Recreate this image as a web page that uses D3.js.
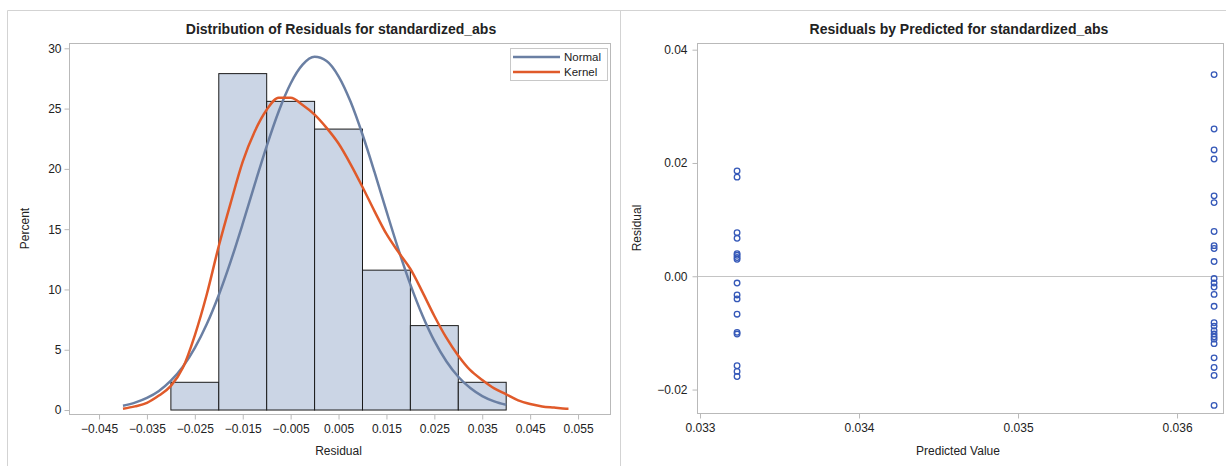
<!DOCTYPE html>
<html>
<head>
<meta charset="utf-8">
<script src="https://cdn.jsdelivr.net/npm/d3@7"></script>
<style>
  body { margin: 0; background: #fff; }
  svg text { font-family: "Liberation Sans", Arial, sans-serif; fill: #222; }
  .title { font-weight: bold; font-size: 14px; }
  .tick text { font-size: 12px; }
</style>
</head>
<body>
<svg id="chart" width="1226" height="466"></svg>
<script>
// ---------------- data ----------------
// histogram bins (left edge, right edge, percent)
var binStarts = [-0.03, -0.02, -0.01, 0.00, 0.01, 0.02, 0.03];
var binEnds = [-0.02, -0.01, 0.00, 0.01, 0.02, 0.03, 0.04];
var binPercents = [2.3, 27.9, 25.6, 23.3, 11.6, 7.0, 2.3];

// normal density curve
var normalX = [-0.040, -0.0375, -0.035, -0.0325, -0.030, -0.0275, -0.025, -0.0225, -0.020, -0.0175,
  -0.015, -0.0125, -0.010, -0.0075, -0.005, -0.0025, 0.000, 0.0025, 0.005, 0.0075, 0.010, 0.0125,
  0.015, 0.0175, 0.020, 0.0225, 0.025, 0.0275, 0.030, 0.0325, 0.035, 0.0375, 0.040];
var normalY = [0.36, 0.61, 1.00, 1.58, 2.43, 3.59, 5.15, 7.13, 9.54, 12.35,
  15.46, 18.71, 21.89, 24.76, 27.08, 28.64, 29.29, 28.95, 27.68, 25.58, 22.85, 19.75,
  16.49, 13.32, 10.40, 7.86, 5.73, 4.05, 2.76, 1.82, 1.16, 0.72, 0.43];

// kernel density curve
var kernelX = [-0.040, -0.0375, -0.035, -0.0325, -0.030, -0.0275, -0.025, -0.0225, -0.020, -0.0175,
  -0.015, -0.0125, -0.010, -0.0075, -0.005, -0.0025, 0.000, 0.0025, 0.005, 0.0075, 0.010, 0.0125,
  0.015, 0.0175, 0.020, 0.0225, 0.025, 0.0275, 0.030, 0.0325, 0.035, 0.0375, 0.040, 0.0425,
  0.045, 0.0475, 0.050, 0.0525, 0.053];
var kernelY = [0.1, 0.3, 0.6, 1.2, 2.0, 3.5, 6.2, 9.6, 13.6, 17.2,
  20.6, 23.1, 24.9, 25.9, 25.9, 25.3, 24.5, 23.4, 22.1, 20.4, 18.5, 16.5,
  14.6, 13.1, 11.7, 9.8, 7.8, 6.0, 4.5, 3.3, 2.5, 1.8, 1.3, 0.8,
  0.5, 0.3, 0.2, 0.1, 0.1];

var residualTicks = [-0.045, -0.035, -0.025, -0.015, -0.005, 0.005, 0.015, 0.025, 0.035, 0.045, 0.055];
var percentTicks = [0, 5, 10, 15, 20, 25, 30];

// residuals by predicted value (two predicted levels)
var predictedLevels = [0.033233, 0.036233];
var residualsLow = [0.0186, 0.0175, 0.0077, 0.0067, 0.0040, 0.0037, 0.0033, 0.0030, -0.0012,
  -0.0033, -0.0040, -0.0067, -0.0099, -0.0102, -0.0158, -0.0168, -0.0177];
var residualsHigh = [0.0356, 0.0260, 0.0223, 0.0207, 0.0142, 0.0130, 0.0079, 0.0054, 0.0049,
  0.0026, -0.0004, -0.0012, -0.0019, -0.0032, -0.0053, -0.0082, -0.0088, -0.0096, -0.0102,
  -0.0107, -0.0111, -0.0119, -0.0144, -0.0161, -0.0175, -0.0228];

var predictedTicks = [0.033, 0.034, 0.035, 0.036];
var residualYTicks = [-0.02, 0.00, 0.02, 0.04];

// ---------------- setup ----------------
var svg = d3.select("svg#chart");
var frameColor = "#b9b9b9",
    normalColor = "#6a7fa3",
    kernelColor = "#e05a2a",
    barFill = "#cbd5e5",
    markerColor = "#3558b8";

// outer panel borders
svg.append("path")
    .attr("d", "M7.5,466 V10.5 H1226 M620.5,10.5 V466")
    .attr("fill", "none")
    .attr("stroke", "#d3d3d3");

// ---------------- left: histogram ----------------
var left = {x0: 69, x1: 610, y0: 43, y1: 414};

var x1 = d3.scaleLinear().domain([-0.05127, 0.06167]).range([left.x0, left.x1]);
var y1 = d3.scaleLinear().domain([-0.33, 30.44]).range([left.y1, left.y0]);

svg.append("text")
    .attr("class", "title")
    .attr("x", 341).attr("y", 34)
    .attr("text-anchor", "middle")
    .text("Distribution of Residuals for standardized_abs");

// bars
svg.append("g").selectAll("rect")
    .data(binPercents)
  .enter().append("rect")
    .attr("x", function(d, i) { return x1(binStarts[i]); })
    .attr("width", function(d, i) { return x1(binEnds[i]) - x1(binStarts[i]); })
    .attr("y", function(d) { return y1(d); })
    .attr("height", function(d) { return y1(0) - y1(d); })
    .attr("fill", barFill)
    .attr("stroke", "#1a1a1a")
    .attr("stroke-width", 1);

// density curves
var normalLine = d3.line()
    .x(function(d, i) { return x1(normalX[i]); })
    .y(function(d) { return y1(d); })
    .curve(d3.curveMonotoneX);
var kernelLine = d3.line()
    .x(function(d, i) { return x1(kernelX[i]); })
    .y(function(d) { return y1(d); })
    .curve(d3.curveMonotoneX);

svg.append("path")
    .attr("d", normalLine(normalY))
    .attr("fill", "none")
    .attr("stroke", normalColor)
    .attr("stroke-width", 2.5);
svg.append("path")
    .attr("d", kernelLine(kernelY))
    .attr("fill", "none")
    .attr("stroke", kernelColor)
    .attr("stroke-width", 2.5);

// frame
svg.append("rect")
    .attr("x", left.x0 + 0.5).attr("y", left.y0 + 0.5)
    .attr("width", left.x1 - left.x0).attr("height", left.y1 - left.y0)
    .attr("fill", "none")
    .attr("stroke", frameColor);

// axes
var xAxis1 = svg.append("g")
    .attr("transform", "translate(0," + (left.y1 + 0.5) + ")")
    .call(d3.axisBottom(x1).tickValues(residualTicks).tickFormat(d3.format(".3f")).tickSize(5).tickSizeOuter(0));
var yAxis1 = svg.append("g")
    .attr("transform", "translate(" + (left.x0 + 0.5) + ",0)")
    .call(d3.axisLeft(y1).tickValues(percentTicks).tickSize(5).tickSizeOuter(0));
[xAxis1, yAxis1].forEach(function(a) {
  a.select(".domain").remove();
  a.selectAll(".tick line").attr("stroke", frameColor);
});
xAxis1.selectAll(".tick text").attr("dy", "1.05em").attr("y", 6);
yAxis1.selectAll(".tick text").attr("x", -8);

svg.append("text")
    .attr("x", x1(0.005)).attr("y", 455)
    .attr("text-anchor", "middle")
    .style("font-size", "12px")
    .text("Residual");
svg.append("text")
    .attr("transform", "translate(29," + ((left.y0 + left.y1) / 2) + ") rotate(-90)")
    .attr("text-anchor", "middle")
    .style("font-size", "12px")
    .text("Percent");

// legend
var legend = svg.append("g");
legend.append("rect")
    .attr("x", 510.5).attr("y", 48.5)
    .attr("width", 97).attr("height", 32)
    .attr("fill", "#fff")
    .attr("stroke", "#c8c8c8");
[["Normal", normalColor, 57], ["Kernel", kernelColor, 72]].forEach(function(item) {
  legend.append("line")
      .attr("x1", 513).attr("x2", 560)
      .attr("y1", item[2]).attr("y2", item[2])
      .attr("stroke", item[1])
      .attr("stroke-width", 2.5);
  legend.append("text")
      .attr("x", 564).attr("y", item[2] + 4)
      .style("font-size", "11.5px")
      .text(item[0]);
});

// ---------------- right: residuals by predicted ----------------
var right = {x0: 697, x1: 1223, y0: 43, y1: 413};

var x2 = d3.scaleLinear().domain([0.032981, 0.036289]).range([right.x0, right.x1]);
var y2 = d3.scaleLinear().domain([-0.02414, 0.04118]).range([right.y1, right.y0]);

svg.append("text")
    .attr("class", "title")
    .attr("x", 959).attr("y", 34)
    .attr("text-anchor", "middle")
    .text("Residuals by Predicted for standardized_abs");

// zero reference line
svg.append("line")
    .attr("x1", right.x0).attr("x2", right.x1)
    .attr("y1", Math.round(y2(0)) + 0.5).attr("y2", Math.round(y2(0)) + 0.5)
    .attr("stroke", "#c4c4c4")
    .attr("stroke-width", 1.2);

svg.append("rect")
    .attr("x", right.x0 + 0.5).attr("y", right.y0 + 0.5)
    .attr("width", right.x1 - right.x0).attr("height", right.y1 - right.y0)
    .attr("fill", "none")
    .attr("stroke", frameColor);

var points = svg.append("g");
[residualsLow, residualsHigh].forEach(function(list, k) {
  points.selectAll(null)
      .data(list)
    .enter().append("circle")
      .attr("cx", x2(predictedLevels[k]))
      .attr("cy", function(d) { return y2(d); })
      .attr("r", 2.8)
      .attr("fill", "none")
      .attr("stroke", markerColor)
      .attr("stroke-width", 1.3);
});

var xAxis2 = svg.append("g")
    .attr("transform", "translate(0," + (right.y1 + 0.5) + ")")
    .call(d3.axisBottom(x2).tickValues(predictedTicks).tickFormat(d3.format(".3f")).tickSize(5).tickSizeOuter(0));
var yAxis2 = svg.append("g")
    .attr("transform", "translate(" + (right.x0 + 0.5) + ",0)")
    .call(d3.axisLeft(y2).tickValues(residualYTicks).tickFormat(d3.format(".2f")).tickSize(5).tickSizeOuter(0));
[xAxis2, yAxis2].forEach(function(a) {
  a.select(".domain").remove();
  a.selectAll(".tick line").attr("stroke", frameColor);
});
xAxis2.selectAll(".tick text").attr("dy", "1.05em").attr("y", 6);
yAxis2.selectAll(".tick text").attr("x", -10);

svg.append("text")
    .attr("x", 958).attr("y", 455)
    .attr("text-anchor", "middle")
    .style("font-size", "12px")
    .text("Predicted Value");
svg.append("text")
    .attr("transform", "translate(641," + ((right.y0 + right.y1) / 2) + ") rotate(-90)")
    .attr("text-anchor", "middle")
    .style("font-size", "12px")
    .text("Residual");
</script>
</body>
</html>
